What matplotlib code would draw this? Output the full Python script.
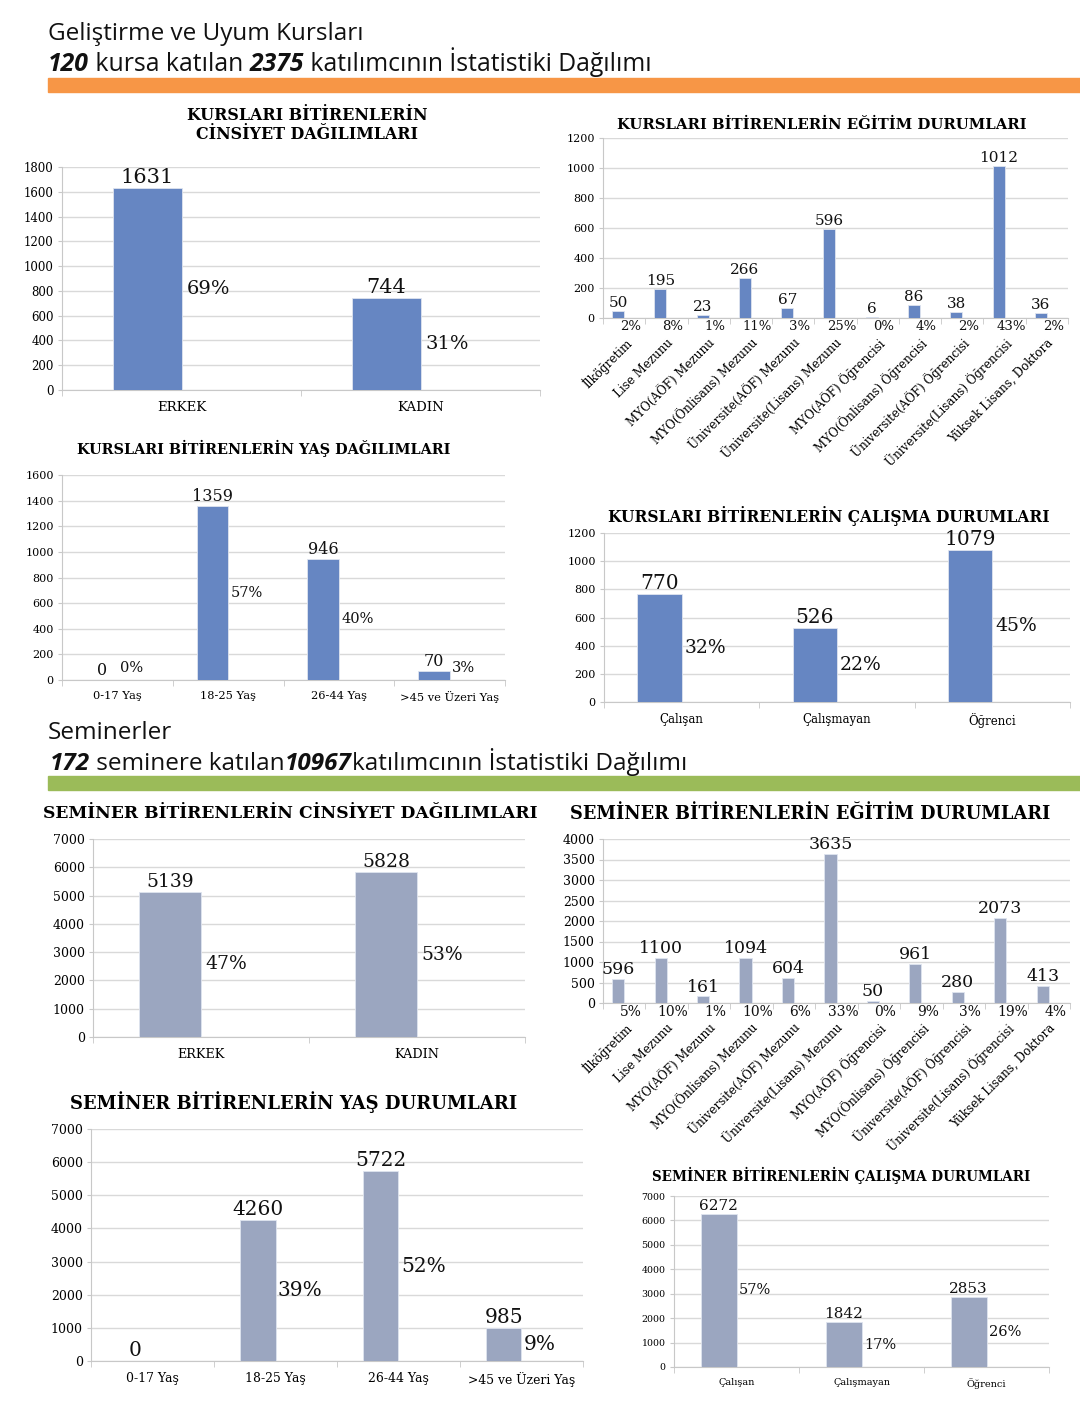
import numpy as np
import matplotlib
matplotlib.use('Agg')
import matplotlib.pyplot as plt

# Figure size in pixels
W, H = 1080, 1404
serif = 'DejaVu Serif'
hfont = 'Open Sans'

# ---------------------------------------------------------------- data
gender_cats = ['ERKEK', 'KADIN']
edu_cats = ['İlköğretim', 'Lise Mezunu', 'MYO(AÖF) Mezunu', 'MYO(Önlisans) Mezunu',
            'Üniversite(AÖF) Mezunu', 'Üniversite(Lisans) Mezunu', 'MYO(AÖF) Öğrencisi',
            'MYO(Önlisans) Öğrencisi', 'Üniversite(AÖF) Öğrencisi',
            'Üniversite(Lisans) Öğrencisi', 'Yüksek Lisans, Doktora']
age_cats = ['0-17 Yaş', '18-25 Yaş', '26-44 Yaş', '>45 ve Üzeri Yaş']
work_cats = ['Çalışan', 'Çalışmayan', 'Öğrenci']

course_gender = [1631, 744]
course_gender_pct = [69, 31]
course_edu = [50, 195, 23, 266, 67, 596, 6, 86, 38, 1012, 36]
course_edu_pct = [2, 8, 1, 11, 3, 25, 0, 4, 2, 43, 2]
course_age = [0, 1359, 946, 70]
course_age_pct = [0, 57, 40, 3]
course_work = [770, 526, 1079]
course_work_pct = [32, 22, 45]

sem_gender = [5139, 5828]
sem_gender_pct = [47, 53]
sem_edu = [596, 1100, 161, 1094, 604, 3635, 50, 961, 280, 2073, 413]
sem_edu_pct = [5, 10, 1, 10, 6, 33, 0, 9, 3, 19, 4]
sem_age = [0, 4260, 5722, 985]
sem_age_pct = [None, 39, 52, 9]
sem_work = [6272, 1842, 2853]
sem_work_pct = [57, 17, 26]

course_blue = '#6686c2'
sem_grey = '#9ba6c0'

fig = plt.figure(figsize=(W / 100, H / 100), dpi=100)
fig.patch.set_facecolor('white')
renderer = fig.canvas.get_renderer()

#-----------------------------------------------------------------------------------------------------------

def bar_chart(rect, cats, vals, pcts, ymax, ystep, color, tick_fs, val_fs, pct_fs, cat_fs,
              rotated=False):
  x0, x1, ytop, ybot = rect
  ax = fig.add_axes([x0 / W, 1 - ybot / H, (x1 - x0) / W, (ybot - ytop) / H])
  n = len(cats)
  w = 0.285
  idx = np.arange(n)
  ax.bar(idx - w / 2, vals, width=w, color=color, edgecolor='#dfe4ef', linewidth=0.6, zorder=3)
  ax.set_xlim(-0.5, n - 0.5)
  ax.set_ylim(0, ymax)
  ax.set_yticks(np.arange(0, ymax + 1, ystep))
  ax.yaxis.grid(True, color='#d9d9d9', linewidth=1.0, zorder=0)
  for s in ['top', 'right']:
    ax.spines[s].set_visible(False)
  for s in ['left', 'bottom']:
    ax.spines[s].set_color('#c8c8c8')
  ax.tick_params(axis='y', length=3, color='#c8c8c8', labelsize=tick_fs, pad=3)
  for lab in ax.get_yticklabels():
    lab.set_family(serif)
  ax.set_xticks(idx)
  ax.set_xticks(np.arange(n + 1) - 0.5, minor=True)
  ax.tick_params(axis='x', which='minor', length=4, color='#c8c8c8')
  ax.tick_params(axis='x', which='major', length=0)
  if rotated:
    ax.set_xticklabels(cats, rotation=45, ha='right', rotation_mode='anchor',
                       fontsize=cat_fs, family=serif)
    ax.tick_params(axis='x', which='major', pad=13)
  else:
    ax.set_xticklabels(cats, fontsize=cat_fs, family=serif)
    ax.tick_params(axis='x', which='major', pad=8)

  for i, v in enumerate(vals):
    ax.text(i - w / 2, v + ymax * 0.005, str(v), ha='center', va='bottom',
            fontsize=val_fs, family=serif, color='#111111', zorder=4)
    p = pcts[i]
    if p is None:
      continue
    if rotated:
      ax.text(i + 0.15, -ymax * 0.01, f'{p}%', ha='center', va='top',
              fontsize=pct_fs, family=serif, color='#111111')
    else:
      y = max(v * 0.5, ymax * 0.06)
      ax.text(i + 0.02, y, f'{p}%', ha='left', va='center',
              fontsize=pct_fs, family=serif, color='#111111', zorder=4)
  return ax


def title(x, y, s, fs):
  fig.text(x / W, 1 - y / H, s, ha='center', va='center', fontsize=fs,
           fontweight='bold', family=serif, linespacing=1.15)


def runs(x, y, parts, fs):
  # write text pieces one after another on a line
  for s, bold in parts:
    t = fig.text(x / W, 1 - y / H, s, fontsize=fs, family=hfont, va='baseline',
                 fontweight='bold' if bold else 'normal',
                 fontstyle='italic' if bold else 'normal', color='#111111')
    x += t.get_window_extent(renderer).width

#-----------------------------------------------------------------------------------------------------------
# Headers
runs(48, 40, [('Geliştirme ve Uyum Kursları', False)], 17.5)
runs(48, 71, [('120', True), (' kursa katılan ', False), ('2375', True),
              (' katılımcının İstatistiki Dağılımı', False)], 17.8)
fig.patches.append(plt.Rectangle((48 / W, 1 - 92 / H), (W - 48) / W, 14 / H,
                                 transform=fig.transFigure, color='#f79646', zorder=0))

runs(48, 739, [('Seminerler', False)], 17.5)
runs(50, 770, [('172', True), (' seminere katılan', False), ('10967', True),
               ('katılımcının İstatistiki Dağılımı', False)], 17.5)
fig.patches.append(plt.Rectangle((48 / W, 1 - 790 / H), (W - 48) / W, 14 / H,
                                 transform=fig.transFigure, color='#9bbb59', zorder=0))

#-----------------------------------------------------------------------------------------------------------
# Courses
title(307, 125, 'KURSLARI BİTİRENLERİN\nCİNSİYET DAĞILIMLARI', 11.4)
bar_chart((62, 540, 167, 390), gender_cats, course_gender, course_gender_pct, 1800, 200,
          course_blue, 8.5, 15, 14, 9.5)

title(822, 125, 'KURSLARI BİTİRENLERİN EĞİTİM DURUMLARI', 10.7)
bar_chart((603, 1068, 138, 318), edu_cats, course_edu, course_edu_pct, 1200, 200,
          course_blue, 8, 11, 9.5, 8.6, rotated=True)

title(264, 448, 'KURSLARI BİTİRENLERİN YAŞ DAĞILIMLARI', 10.4)
bar_chart((62, 505, 475, 680), age_cats, course_age, course_age_pct, 1600, 200,
          course_blue, 8, 11.5, 10.5, 8.2)

title(829, 516, 'KURSLARI BİTİRENLERİN ÇALIŞMA DURUMLARI', 11.2)
bar_chart((604, 1070, 533, 702), work_cats, course_work, course_work_pct, 1200, 200,
          course_blue, 8, 14.5, 13.5, 8.5)

#-----------------------------------------------------------------------------------------------------------
# Seminars
title(290, 814, 'SEMİNER BİTİRENLERİN CİNSİYET DAĞILIMLARI', 12.3)
bar_chart((93, 525, 839, 1037), gender_cats, sem_gender, sem_gender_pct, 7000, 1000,
          sem_grey, 9, 13.5, 13.5, 9.2)

title(810, 814, 'SEMİNER BİTİRENLERİN EĞİTİM DURUMLARI', 12.75)
bar_chart((603, 1070, 839, 1003), edu_cats, sem_edu, sem_edu_pct, 4000, 500,
          sem_grey, 9, 12.5, 10, 8.6, rotated=True)

title(294, 1102, 'SEMİNER BİTİRENLERİN YAŞ DURUMLARI', 13)
bar_chart((91, 583, 1129, 1361), age_cats, sem_age, sem_age_pct, 7000, 1000,
          sem_grey, 9, 14.5, 14.5, 8.9)

title(841, 1175, 'SEMİNER BİTİRENLERİN ÇALIŞMA DURUMLARI', 9.75)
bar_chart((674, 1049, 1196, 1367), work_cats, sem_work, sem_work_pct, 7000, 1000,
          sem_grey, 6.8, 11, 10.5, 7)

plt.savefig('out.png', dpi=100)
